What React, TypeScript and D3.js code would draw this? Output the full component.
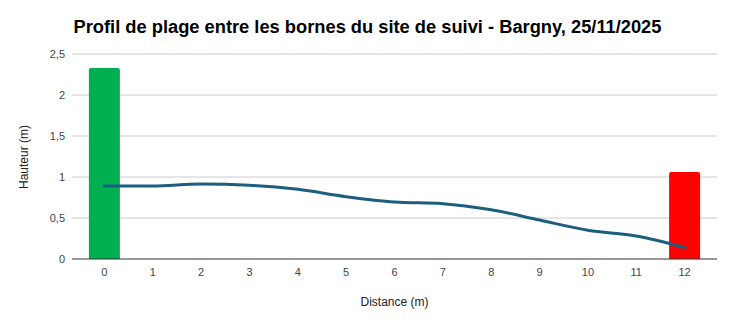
import React from "react";
import * as d3 from "d3";

const distances = [0, 1, 2, 3, 4, 5, 6, 7, 8, 9, 10, 11, 12];
const profileHeights = [0.89, 0.89, 0.915, 0.9, 0.85, 0.76, 0.695, 0.675, 0.6, 0.475, 0.35, 0.28, 0.14];
const bornes = [
  { d: 0, h: 2.33, color: "#00b050" },
  { d: 12, h: 1.06, color: "#ff0000" },
];
const yTicks = [0, 0.5, 1, 1.5, 2, 2.5];
const titleText = "Profil de plage entre les bornes du site de suivi - Bargny, 25/11/2025";

const W = 734;
const H = 326;
const left = 72;
const right = 717;
const top = 54;
const bottom = 259;

const fmt = (v: number) => String(v).replace(".", ",");

export default function App() {
  const x = d3.scalePoint<number>().domain(distances).range([left, right]).padding(0.67);
  const y = d3.scaleLinear().domain([0, 2.5]).range([bottom, top]);
  const cx = (d: number) => x(d) as number;
  const barW = 31;

  const line = d3
    .line<number>()
    .x((_, i) => cx(distances[i]))
    .y((v) => y(v))
    .curve(d3.curveMonotoneX);

  const font = "Arial, 'Liberation Sans', sans-serif";

  return (
    <svg width={W} height={H} style={{ position: "absolute", left: 0, top: 0, fontFamily: font }}>
      <rect width={W} height={H} fill="#fff" />
      <text x={367.5} y={33} textAnchor="middle" fontSize={18.3} fontWeight="bold" fill="#000">
        {titleText}
      </text>
      {yTicks.map((t) => (
        <g key={t}>
          {t !== 0 && <line x1={left} x2={right} y1={y(t)} y2={y(t)} stroke="#cccccc" strokeWidth={1} />}
          <text x={65} y={y(t) + 4} textAnchor="end" fontSize={11} fill="#444">
            {fmt(t)}
          </text>
        </g>
      ))}
      {bornes.map((b) => {
        const x0 = cx(b.d) - barW / 2;
        const y0 = y(b.h);
        const r = 2;
        const path = `M${x0},${bottom} L${x0},${y0 + r} Q${x0},${y0} ${x0 + r},${y0} L${x0 + barW - r},${y0} Q${x0 + barW},${y0} ${x0 + barW},${y0 + r} L${x0 + barW},${bottom} Z`;
        return <path key={b.d} d={path} fill={b.color} />;
      })}
      <line x1={left} x2={right} y1={bottom} y2={bottom} stroke="#333" strokeWidth={1} />
      <path d={line(profileHeights) || ""} fill="none" stroke="#1b5e7e" strokeWidth={3} strokeLinejoin="round" strokeLinecap="round" />
      {distances.map((d) => (
        <text key={d} x={cx(d)} y={276} textAnchor="middle" fontSize={11} fill="#444">
          {d}
        </text>
      ))}
      <text x={(left + right) / 2} y={306} textAnchor="middle" fontSize={12} fill="#222">
        Distance (m)
      </text>
      <text transform={`translate(28,157) rotate(-90)`} textAnchor="middle" fontSize={12} fill="#222">
        Hauteur (m)
      </text>
    </svg>
  );
}
